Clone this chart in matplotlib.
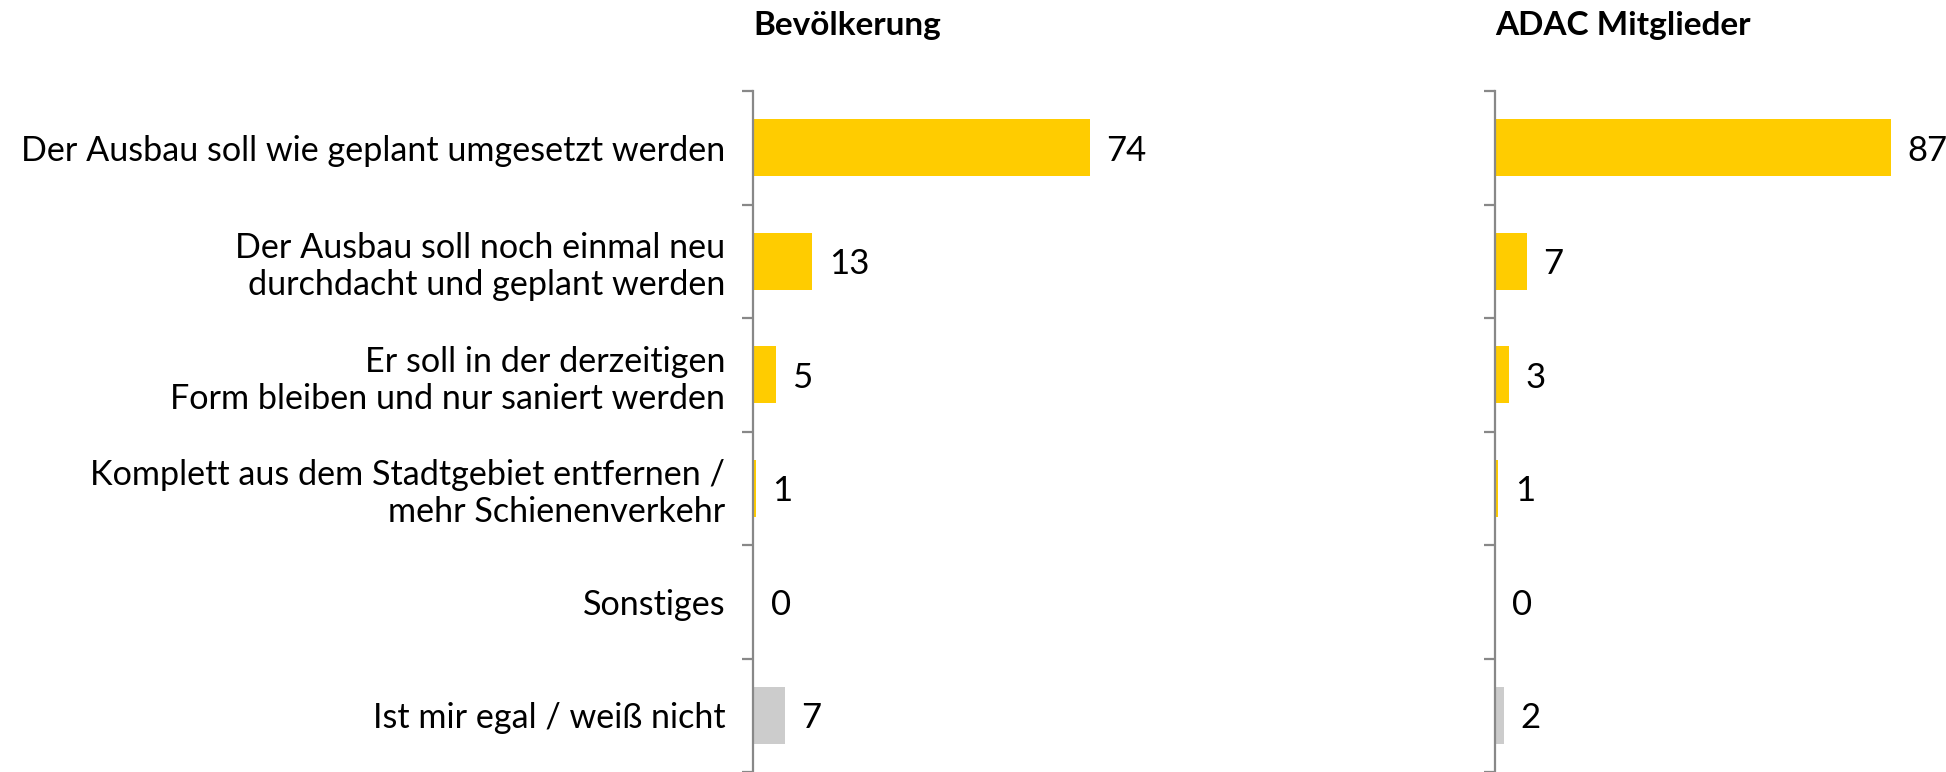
import matplotlib
matplotlib.use('Agg')
import matplotlib.pyplot as plt
import numpy as np

# ─── DATA ───────────────────────────────────────────────────────────────────────
categories = [
    'Der Ausbau soll wie geplant umgesetzt werden',
    'Der Ausbau soll noch einmal neu\ndurchdacht und geplant werden',
    'Er soll in der derzeitigen\nForm bleiben und nur saniert werden',
    'Komplett aus dem Stadtgebiet entfernen /\nmehr Schienenverkehr',
    'Sonstiges',
    'Ist mir egal / weiß nicht',
]
bev_values = [74, 13, 5, 0.6, 0.3, 7]
adac_values = [87, 7, 3, 0.7, 0.1, 2]
panel_titles = ['Bevölkerung', 'ADAC Mitglieder']
bar_colors = ['#FFCC00'] * 5 + ['#CCCCCC']

# ─── STYLE ──────────────────────────────────────────────────────────────────────
plt.rcParams['font.family'] = ['Lato', 'DejaVu Sans']
W, H = 1946, 772
FS = 25
SPINE = '#888888'

fig = plt.figure(figsize=(W / 100, H / 100), dpi=100)

def panel(x0, values, title, show_labels):
    ax = fig.add_axes([x0 / W, 0, 455 / W, (H - 91) / H])
    y = np.arange(len(values))
    ax.barh(y, values, height=0.5, color=bar_colors)
    ax.set_xlim(0, 100)
    ax.set_ylim(len(values) - 0.5, -0.5)
    for s in ['top', 'right', 'bottom']:
        ax.spines[s].set_visible(False)
    ax.spines['left'].set_color(SPINE)
    ax.spines['left'].set_linewidth(1.6)
    ax.set_xticks([])
    ax.set_yticks(y)
    ax.set_yticks(np.arange(len(values) + 1) - 0.5, minor=True)
    ax.tick_params(axis='y', which='major', length=0, pad=20, labelsize=24.6)
    ax.tick_params(axis='y', which='minor', length=8, width=1.6, color=SPINE)
    if show_labels:
        ax.set_yticklabels(categories)
    else:
        ax.set_yticklabels([])
    for yi, v in zip(y, values):
        ax.annotate(f'{v:.0f}', xy=(v, yi), xytext=(12, 0), textcoords='offset points',
                    ha='left', va='center_baseline', fontsize=FS, color='black')
    fig.text(x0 / W, 1 - 35 / H, title, ha='left', va='baseline',
             fontsize=24, fontweight='bold')
    return ax

panel(753, bev_values, panel_titles[0], True)
panel(1495, adac_values, panel_titles[1], False)

fig.savefig('out.png', dpi=100)
